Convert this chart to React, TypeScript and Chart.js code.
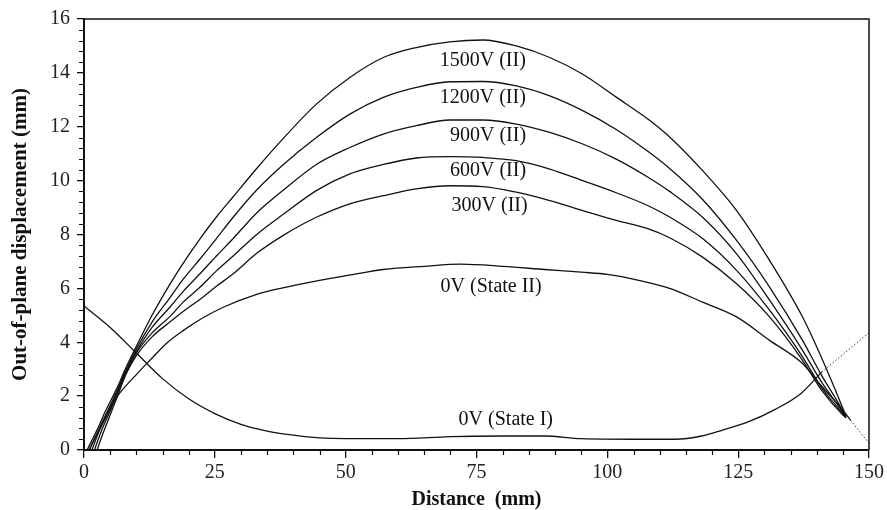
import React, { useEffect, useRef } from "react";
import { Chart, registerables } from "chart.js";

Chart.register(...registerables);

// ---- data (x = distance in mm, y = out-of-plane displacement in mm) ----
const xTickStep = 25;
const yTickStep = 2;
const xMinorStep = 5;
const yMinorStep = 0.4;

const v1500: [number, number][] = [
  [0.6, 0], [2.5, 0.75], [4, 1.4], [6.3, 2.3], [8, 3.05], [10, 3.85], [13, 5.0], [16.4, 6.15],
  [19, 6.95], [22.2, 7.85], [25.3, 8.65], [28.5, 9.4], [33, 10.45], [38, 11.55], [44.4, 12.84],
  [50.8, 13.83], [57.2, 14.57], [63.5, 14.94], [69.9, 15.15], [76.2, 15.22], [82.6, 15.0],
  [89, 14.57], [95.3, 13.95], [101.7, 13.1], [108, 12.25], [111.9, 11.62], [118.2, 10.37],
  [124.7, 8.89], [131, 7.04], [137.3, 4.94], [141, 3.4], [145, 1.55], [145.6, 1.25],
];
const v1200: [number, number][] = [
  [1.0, 0], [2.8, 0.75], [4.5, 1.45], [6.3, 2.2], [8, 2.95], [10, 3.75], [13, 4.75], [16.4, 5.65],
  [19, 6.35], [22.2, 7.1], [25.3, 7.85], [28.5, 8.64], [33, 9.65], [38, 10.58], [44.4, 11.6],
  [50.8, 12.47], [57.2, 13.09], [63.5, 13.46], [69.9, 13.67], [76.2, 13.68], [82.6, 13.52],
  [89, 13.15], [95.3, 12.6], [101.7, 11.9], [108, 11.05], [111.9, 10.45], [118.2, 9.3],
  [124.7, 7.78], [131, 6.05], [137.3, 4.07], [141, 2.75], [145, 1.45], [145.6, 1.2],
];
const v900: [number, number][] = [
  [1.5, 0], [3, 0.75], [4.5, 1.35], [6.3, 2.15], [8, 2.9], [10, 3.65], [13, 4.55], [16.4, 5.3],
  [19, 5.9], [22.2, 6.55], [25.3, 7.2], [28.5, 7.85], [33, 8.8], [38, 9.63], [44.4, 10.6],
  [50.8, 11.23], [57.2, 11.73], [63.5, 12.04], [69.9, 12.25], [76.2, 12.25], [82.6, 12.1],
  [89, 11.79], [95.3, 11.36], [101.7, 10.8], [108, 10.1], [111.9, 9.6], [118.2, 8.64],
  [124.7, 7.28], [131, 5.56], [137.3, 3.7], [141, 2.5], [145, 1.4], [145.6, 1.2],
];
const v600: [number, number][] = [
  [2, 0], [3.3, 0.7], [5, 1.45], [6.5, 2.15], [8, 2.85], [10, 3.6], [13, 4.35], [16.4, 4.95],
  [19, 5.5], [22.2, 6.05], [25.3, 6.65], [28.5, 7.2], [33, 8.0], [38, 8.74], [44.4, 9.63],
  [50.8, 10.25], [57.2, 10.6], [63.5, 10.84], [69.9, 10.89], [76.2, 10.86], [82.6, 10.74],
  [89, 10.43], [95.3, 10.0], [101.7, 9.55], [108, 9.05], [111.9, 8.65], [118.2, 7.85],
  [124.7, 6.67], [131, 5.19], [137.3, 3.46], [141, 2.3], [145, 1.35], [145.6, 1.2],
];
const v300: [number, number][] = [
  [2.5, 0], [3.6, 0.6], [5, 1.3], [6.5, 2.05], [8, 2.8], [10, 3.5], [13, 4.2], [16.4, 4.75],
  [19, 5.15], [22.2, 5.6], [25.3, 6.08], [28.5, 6.54], [33, 7.3], [38, 7.96], [44.4, 8.64],
  [50.8, 9.14], [57.2, 9.44], [63.5, 9.69], [69.9, 9.81], [76.2, 9.78], [82.6, 9.57],
  [89, 9.26], [95.3, 8.89], [101.7, 8.52], [108, 8.2], [111.9, 7.88], [118.2, 7.16],
  [124.7, 6.17], [131, 4.94], [137.3, 3.33], [141, 2.2], [145, 1.3], [145.6, 1.2],
];
const v0StateII: [number, number][] = [
  [1, 0], [3, 0.8], [6.3, 1.97], [10, 2.8], [12.6, 3.33], [16, 4.0], [19, 4.44], [22.5, 4.88],
  [26.6, 5.3], [33, 5.78], [38, 6.02], [45, 6.3], [51, 6.5], [57.2, 6.7], [65, 6.82], [72, 6.9],
  [80, 6.82], [88, 6.7], [95, 6.6], [100, 6.52], [106, 6.3], [111.9, 6.0], [118.2, 5.49],
  [124.7, 4.94], [131, 4.07], [137.3, 3.21], [140.5, 2.47], [145, 1.48], [146.5, 1.1],
];
const v0StateIIEnd: [number, number][] = [[146.5, 1.1], [150, 0.25]];
const v0StateI: [number, number][] = [
  [0, 5.35], [5, 4.55], [10, 3.6], [15, 2.65], [20, 1.9], [25, 1.35], [30, 0.95], [35, 0.7],
  [40, 0.55], [45, 0.45], [50, 0.42], [60, 0.42], [70, 0.5], [80, 0.52], [88, 0.52], [95, 0.42],
  [105, 0.4], [113, 0.4], [118, 0.52], [122, 0.74], [127, 1.05], [132, 1.5], [137, 2.1], [141, 2.9],
];
const v0StateIEnd: [number, number][] = [[141, 2.9], [150, 4.35]];

const annotationTexts = ["1500V (II)", "1200V (II)", "900V (II)", "600V (II)", "300V (II)", "0V (State II)", "0V (State I)"];
const annotationX = [76.2, 76.2, 77.2, 77.2, 77.5, 77.8, 80.6];
const annotationY = [14.46, 13.09, 11.67, 10.35, 9.06, 6.06, 1.13];

const xTitle = "Distance  (mm)";
const yTitle = "Out-of-plane displacement (mm)";

const FONT = "'Liberation Serif', 'Times New Roman', serif";
const INK = "#111";

const toPts = (a: [number, number][]) => a.map(([x, y]) => ({ x, y }));

const solid = (data: [number, number][]) => ({
  data: toPts(data),
  borderColor: INK,
  borderWidth: 1.3,
  pointRadius: 0,
  fill: false,
  cubicInterpolationMode: "monotone" as const,
});
const dotted = (data: [number, number][]) => ({
  data: toPts(data),
  borderColor: "#333",
  borderWidth: 1,
  borderDash: [1.5, 2],
  pointRadius: 0,
  fill: false,
});

const decorPlugin = {
  id: "decor",
  afterDraw(chart: any) {
    const { ctx, chartArea, scales } = chart;
    const xs = scales.x;
    const ys = scales.y;
    ctx.save();
    // frame (top & right)
    ctx.strokeStyle = INK;
    ctx.lineWidth = 1.5;
    ctx.beginPath();
    ctx.moveTo(chartArea.left, chartArea.top);
    ctx.lineTo(chartArea.right, chartArea.top);
    ctx.lineTo(chartArea.right, chartArea.bottom);
    ctx.stroke();
    // minor ticks
    ctx.lineWidth = 1.2;
    ctx.beginPath();
    for (let v = xMinorStep; v < 150; v += xMinorStep) {
      if (v % xTickStep === 0) continue;
      const px = Math.round(xs.getPixelForValue(v)) + 0.5;
      ctx.moveTo(px, chartArea.bottom);
      ctx.lineTo(px, chartArea.bottom + 5);
    }
    for (let i = 1; i < 40; i++) {
      if (i % 5 === 0) continue;
      const v = i * yMinorStep;
      const py = Math.round(ys.getPixelForValue(v)) + 0.5;
      ctx.moveTo(chartArea.left, py);
      ctx.lineTo(chartArea.left - 5, py);
    }
    ctx.stroke();
    // annotations
    ctx.fillStyle = INK;
    ctx.font = `20px ${FONT}`;
    ctx.textAlign = "center";
    ctx.textBaseline = "middle";
    annotationTexts.forEach((t, i) => {
      ctx.fillText(t, xs.getPixelForValue(annotationX[i]), ys.getPixelForValue(annotationY[i]));
    });
    ctx.restore();
  },
};

export default function App() {
  const ref = useRef<HTMLCanvasElement | null>(null);
  useEffect(() => {
    document.body.style.margin = "0";
    const canvas = ref.current;
    if (!canvas) return;
    const chart = new Chart(canvas, {
      type: "line",
      data: {
        datasets: [
          solid(v1500),
          solid(v1200),
          solid(v900),
          solid(v600),
          solid(v300),
          solid(v0StateII),
          dotted(v0StateIIEnd),
          solid(v0StateI),
          dotted(v0StateIEnd),
        ] as any,
      },
      options: {
        animation: false,
        responsive: true,
        maintainAspectRatio: false,
        layout: { padding: { top: 18, right: 18, left: 0, bottom: 0 } },
        plugins: { legend: { display: false }, tooltip: { enabled: false } },
        scales: {
          x: {
            type: "linear",
            min: 0,
            max: 150,
            afterFit: (s: any) => { s.height = 60; },
            ticks: { stepSize: xTickStep, color: "#222", font: { family: FONT, size: 20 }, padding: 3, maxRotation: 0 },
            grid: { drawOnChartArea: false, drawTicks: true, tickLength: 8, color: INK, lineWidth: 1.3 },
            border: { display: true, color: INK, width: 2 },
            title: { display: true, text: xTitle, color: INK, font: { family: FONT, size: 20, weight: "bold", lineHeight: 1 }, padding: { top: 0, bottom: 0 } },
          },
          y: {
            type: "linear",
            min: 0,
            max: 16,
            afterFit: (s: any) => { s.width = 84; },
            ticks: { stepSize: yTickStep, color: "#222", font: { family: FONT, size: 20 }, padding: 7 },
            grid: { drawOnChartArea: false, drawTicks: true, tickLength: 7, color: INK, lineWidth: 1.3 },
            border: { display: true, color: INK, width: 2 },
            title: { display: true, text: yTitle, color: INK, font: { family: FONT, size: 21, weight: "bold", lineHeight: 1 }, padding: { top: 10, bottom: 0 } },
          },
        },
      } as any,
      plugins: [decorPlugin],
    });
    return () => chart.destroy();
  }, []);
  return (
    <div style={{ width: 887, height: 510, position: "relative" }}>
      <canvas ref={ref} />
    </div>
  );
}
